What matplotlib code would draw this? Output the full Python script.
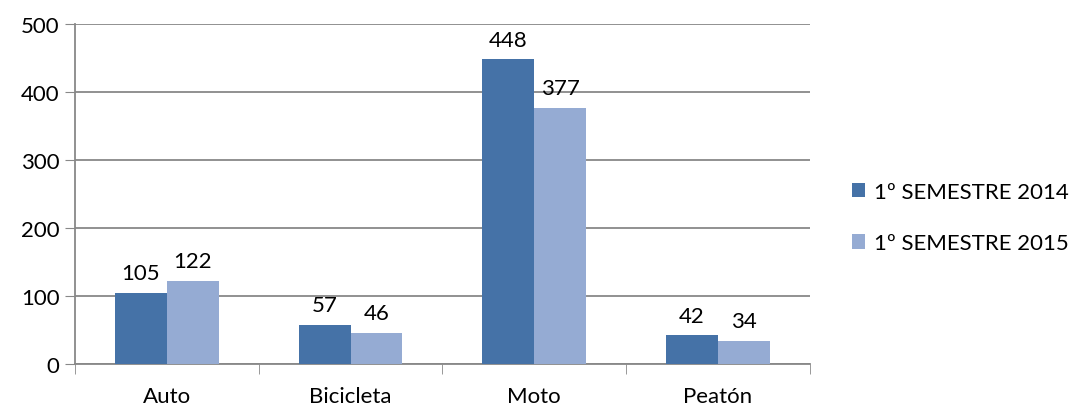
import numpy as np
import matplotlib.pyplot as plt

plt.rcParams['font.family'] = ['Lato', 'DejaVu Sans']

categorias = ['Auto', 'Bicicleta', 'Moto', 'Peatón']
sem_2014 = [105, 57, 448, 42]
sem_2015 = [122, 46, 377, 34]
series = ['1º SEMESTRE 2014', '1º SEMESTRE 2015']

fig = plt.figure(figsize=(10.81, 4.10), dpi=100)
ax = fig.add_axes([0.0694, 0.1098, 0.6796, 0.8293])

x = np.arange(len(categorias))
w = 0.283
b1 = ax.bar(x - w / 2, sem_2014, w, color='#4572A7', label=series[0], zorder=3)
b2 = ax.bar(x + w / 2, sem_2015, w, color='#95ABD3', label=series[1], zorder=3)

for barras in (b1, b2):
    for r in barras:
        ax.annotate(str(int(r.get_height())), (r.get_x() + r.get_width() / 2, r.get_height()),
                    xytext=(0, 7), textcoords='offset points', ha='center', va='bottom',
                    fontsize=16)

ax.set_xlim(-0.5, len(categorias) - 0.5)
ax.set_ylim(0, 500)
ax.set_yticks(range(0, 501, 100))
ax.set_xticks(x)
ax.set_xticklabels(categorias, fontsize=16)
ax.set_xticks(np.arange(-0.5, len(categorias), 1), minor=True)
ax.tick_params(axis='x', which='major', length=0, pad=16)
ax.tick_params(axis='x', which='minor', length=7, color='#888888')
ax.tick_params(axis='y', labelsize=16, length=7, color='#888888', pad=4)
ax.yaxis.grid(True, color='#888888', linewidth=1.3, zorder=0)
for s in ['top', 'right']:
    ax.spines[s].set_visible(False)
for s in ['left', 'bottom']:
    ax.spines[s].set_color('#888888')
    ax.spines[s].set_linewidth(1.3)

ax.legend(loc='center left', bbox_to_anchor=(1.03, 0.43), frameon=False, fontsize=16,
          handlelength=0.6, handleheight=0.6, labelspacing=1.4, handletextpad=0.4)

fig.savefig('out.png', dpi=100)
